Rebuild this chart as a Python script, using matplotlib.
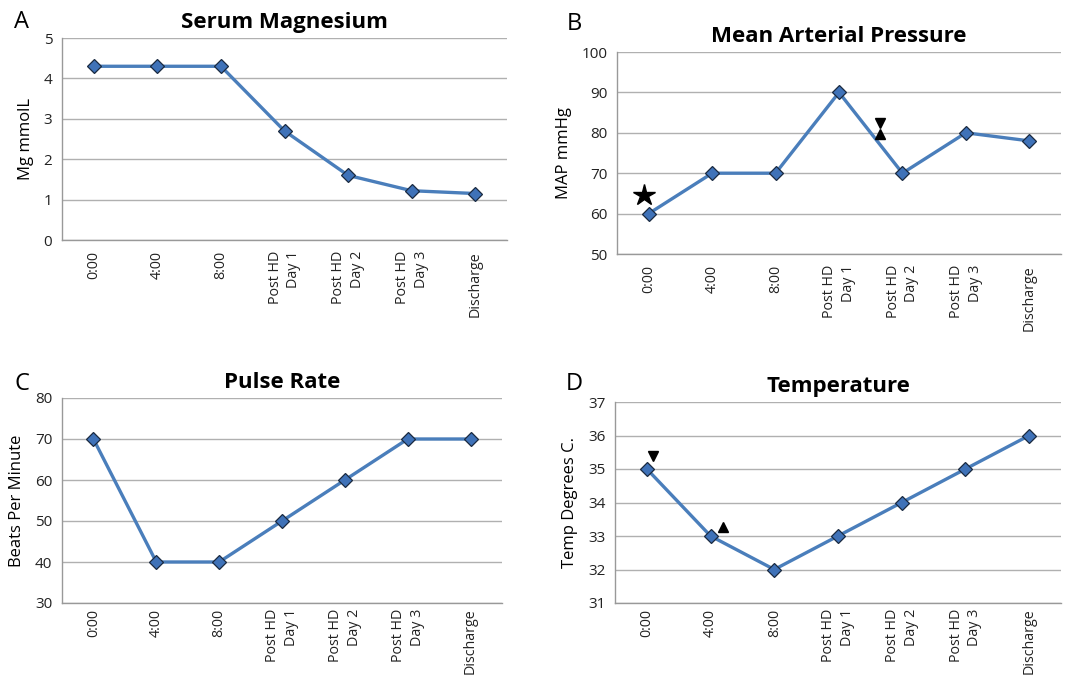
import matplotlib
matplotlib.use("Agg")
import matplotlib.pyplot as plt
import numpy as np

categories = ["0:00", "4:00", "8:00", "Post HD\nDay 1", "Post HD\nDay 2", "Post HD\nDay 3", "Discharge"]
mg_values = [4.3, 4.3, 4.3, 2.7, 1.6, 1.22, 1.15]
map_values = [60, 70, 70, 90, 70, 80, 78]
pulse_values = [70, 40, 40, 50, 60, 70, 70]
temp_values = [35, 33, 32, 33, 34, 35, 36]

plt.rcParams['font.family'] = ['Open Sans', 'DejaVu Sans']

fig = plt.figure(figsize=(10.66, 6.8), dpi=100)
W, H = 1066, 680

def add_ax(l, t, r, b):
    return fig.add_axes([l / W, 1 - b / H, (r - l) / W, (b - t) / H])

LINE = '#4a7ebb'
FACE = '#3f72b8'
GRID = '#b0b0b0'

panels = [
    dict(box=(62, 38, 507, 240), vals=mg_values, ylim=(0, 5), step=1, title="Serum Magnesium",
         ylabel="Mg mmolL", letter="A", xpad=8),
    dict(box=(617, 52, 1061, 254), vals=map_values, ylim=(50, 100), step=10, title="Mean Arterial Pressure",
         ylabel="MAP mmHg", letter="B", xpad=8),
    dict(box=(62, 398, 502, 603), vals=pulse_values, ylim=(30, 80), step=10, title="Pulse Rate",
         ylabel="Beats Per Minute", letter="C", xpad=4),
    dict(box=(615, 402, 1061, 603), vals=temp_values, ylim=(31, 37), step=1, title="Temperature",
         ylabel="Temp Degrees C.", letter="D", xpad=4),
]

axes = []
for p in panels:
    ax = add_ax(*p['box'])
    axes.append(ax)
    x = np.arange(len(categories))
    ax.plot(x, p['vals'], color=LINE, lw=2.4, marker='D', markersize=7.5,
            markerfacecolor=FACE, markeredgecolor='#1a2a40', markeredgewidth=0.9, zorder=3)
    ax.set_xlim(-0.5, len(categories) - 0.5)
    ax.set_ylim(*p['ylim'])
    ax.set_yticks(np.arange(p['ylim'][0], p['ylim'][1] + p['step'] / 2, p['step']))
    ax.yaxis.grid(True, color=GRID, lw=1.0)
    ax.set_axisbelow(True)
    ax.set_xticks(x)
    ax.set_xticklabels(categories, rotation=90, fontsize=10.3, color='#222222',
                       multialignment='right', linespacing=1.35)
    ax.tick_params(axis='y', length=0, pad=7, labelsize=11, labelcolor='#222222')
    ax.tick_params(axis='x', length=0, pad=p['xpad'])
    for s in ['top', 'right']:
        ax.spines[s].set_visible(False)
    for s in ['left', 'bottom']:
        ax.spines[s].set_color('#999999')
        ax.spines[s].set_linewidth(1.0)
    ax.set_title(p['title'], fontsize=16, fontweight='bold', pad=7)
    ax.set_ylabel(p['ylabel'], fontsize=12, labelpad=7)

# panel letters
fig.text(22 / W, 1 - 22 / H, "A", fontsize=17, ha='center', va='center')
fig.text(574 / W, 1 - 24 / H, "B", fontsize=17, ha='center', va='center')
fig.text(22 / W, 1 - 384 / H, "C", fontsize=17, ha='center', va='center')
fig.text(574 / W, 1 - 384 / H, "D", fontsize=17, ha='center', va='center')

# annotation symbols
axB = axes[1]
axB.plot([-0.08], [64.5], marker='*', color='black', markersize=16, zorder=4, clip_on=False)
axB.plot([3.65], [82.5], marker='v', color='black', markersize=7.5, zorder=4)
axB.plot([3.65], [79.8], marker='^', color='black', markersize=7.5, zorder=4)

axD = axes[3]
axD.plot([0.1], [35.4], marker='v', color='black', markersize=7.5, zorder=4)
axD.plot([1.2], [33.27], marker='^', color='black', markersize=7.5, zorder=4)

fig.savefig("out.png", dpi=100)
